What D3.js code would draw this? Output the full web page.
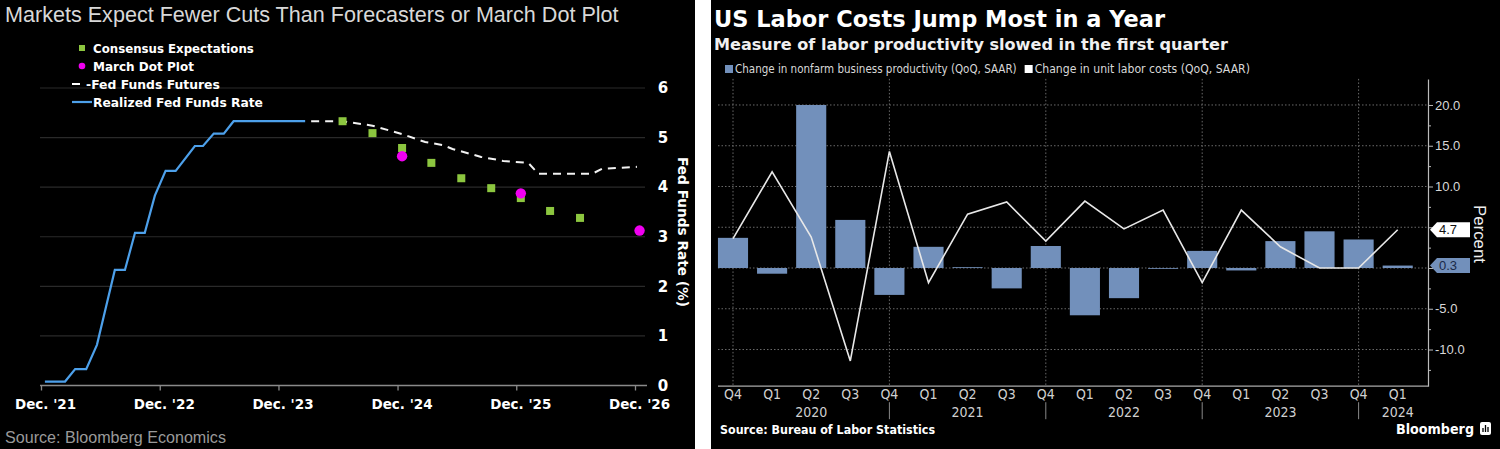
<!DOCTYPE html>
<html><head><meta charset="utf-8">
<script src="https://cdn.jsdelivr.net/npm/d3@7"></script>
<style>body{margin:0;background:#fff;} svg{display:block}</style>
</head><body>
<svg id="c" width="1500" height="449"></svg>
<script>
// ---------- LEFT CHART DATA ----------
const realizedDates = ["2021-12-13","2022-02-13","2022-03-16","2022-04-19","2022-05-22","2022-07-16","2022-08-16","2022-09-16","2022-10-16","2022-11-16","2022-12-19","2023-01-19","2023-03-19","2023-04-13","2023-05-16","2023-06-16","2023-07-16","2024-02-21"];
const realizedRates = [0.08,0.08,0.33,0.33,0.82,2.33,2.33,3.08,3.08,3.83,4.33,4.33,4.83,4.83,5.08,5.08,5.33,5.33];
const futuresDates = ["2024-02-21","2024-06-15","2024-09-15","2024-12-15","2025-02-24","2025-04-19","2025-05-19","2025-08-15","2025-10-22","2026-01-07","2026-02-07","2026-07-22","2026-08-22","2026-12-07"];
const futuresRates = [5.33,5.33,5.24,5.07,4.91,4.85,4.77,4.61,4.53,4.49,4.27,4.27,4.37,4.41];
const consensusDates = ["2024-06-15","2024-09-15","2024-12-15","2025-03-15","2025-06-15","2025-09-15","2025-12-15","2026-03-15","2026-06-15"];
const consensusRates = [5.33,5.09,4.79,4.49,4.18,3.98,3.78,3.52,3.38];
const dotPlotDates = ["2024-12-15","2025-12-15","2026-12-15"];
const dotPlotRates = [4.625,3.875,3.125];
const leftXTickDates = ["2021-12-01","2022-12-01","2023-12-01","2024-12-01","2025-12-01","2026-12-01"];
const leftXTickLabels = ["Dec. '21","Dec. '22","Dec. '23","Dec. '24","Dec. '25","Dec. '26"];
const leftYTicks = [0,1,2,3,4,5,6];
const leftYTickLabels = ["0","1","2","3","4","5","6"];
const leftLegendLabels = ["Consensus Expectations","March Dot Plot","-Fed Funds Futures","Realized Fed Funds Rate"];

// ---------- RIGHT CHART DATA ----------
const quarterLabels = ["Q4","Q1","Q2","Q3","Q4","Q1","Q2","Q3","Q4","Q1","Q2","Q3","Q4","Q1","Q2","Q3","Q4","Q1"];
const quarterYears  = [2019,2020,2020,2020,2020,2021,2021,2021,2021,2022,2022,2022,2022,2023,2023,2023,2023,2024];
const productivity   = [3.7,-0.7,20.0,5.9,-3.3,2.6,0.1,-2.5,2.7,-5.8,-3.7,-0.1,2.1,-0.3,3.3,4.5,3.5,0.3];
const unitLaborCosts = [3.6,11.8,3.8,-11.4,14.3,-1.8,6.6,8.1,3.3,8.2,4.8,7.1,-1.8,7.1,2.6,0.0,0.0,4.7];
const rightYTicks = [-10,-5,0,5,10,15,20];
const rightYTickLabels = ["-10.0","-5.0","0.0","5.0","10.0","15.0","20.0"];
const rightYMinorTicks = [-12.5,-7.5,-2.5,2.5,7.5,12.5,17.5];
const yearLabels = ["2020","2021","2022","2023","2024"];
const rightLegendLabels = ["Change in nonfarm business productivity (QoQ, SAAR)","Change in unit labor costs (QoQ, SAAR)"];

// ---------- HELPERS ----------
const NARROW = "'Liberation Sans Narrow','DejaVu Sans Condensed','Roboto Condensed','Liberation Sans',Arial,sans-serif";
const SANS = "'Liberation Sans',Arial,sans-serif";
const DJ = "'DejaVu Sans',Verdana,sans-serif";
function fit(t, w){ const fs=parseFloat(t.attr('font-size')); const l=t.node().getComputedTextLength(); if(l>0) t.attr('font-size',(fs*w/l).toFixed(2)); return t; }
const parse = d3.timeParse('%Y-%m-%d');
const svg = d3.select('#c');

// ================= LEFT =================
const L = svg.append('g');
L.append('rect').attr('x',0).attr('y',0).attr('width',695).attr('height',449).attr('fill','#000');
const xL = d3.scaleTime().domain([parse(leftXTickDates[0]), parse(leftXTickDates[leftXTickDates.length-1])]).range([41,635]);
const yL = d3.scaleLinear().domain([0,6]).range([385.5,88]);

fit(L.append('text').attr('x',5).attr('y',22).attr('fill','#d8d8d8').attr('font-family',SANS).attr('font-size',21)
  .text('Markets Expect Fewer Cuts Than Forecasters or March Dot Plot'), 614);

// gridlines
L.append('g').selectAll('line').data(leftYTicks.filter(d=>d>0)).join('line')
  .attr('x1',40).attr('x2',645).attr('y1',d=>yL(d)).attr('y2',d=>yL(d))
  .attr('stroke','#2a2a2a').attr('stroke-width',1.2);

// x axis
const gxL = L.append('g').attr('transform',`translate(0,${yL(0)})`)
  .call(d3.axisBottom(xL).tickValues(leftXTickDates.map(parse)).tickFormat((d,i)=>leftXTickLabels[i]).tickSize(5).tickSizeOuter(0));
gxL.select('.domain').remove();
gxL.selectAll('.tick line').attr('stroke','#8a8a8a').attr('stroke-width',1.3);
gxL.selectAll('.tick text').attr('fill','#fff').attr('font-family',DJ).attr('font-weight','bold').attr('font-size',13.5).attr('dy',0).attr('y',23).attr('dx',4);
L.append('line').attr('x1',40).attr('x2',647).attr('y1',yL(0)).attr('y2',yL(0)).attr('stroke','#8a8a8a').attr('stroke-width',1.5);

// y axis (right)
const gyL = L.append('g').attr('transform','translate(663,0)')
  .call(d3.axisRight(yL).tickValues(leftYTicks).tickFormat((d,i)=>leftYTickLabels[i]).tickSize(0).tickPadding(0));
gyL.select('.domain').remove();
gyL.selectAll('.tick text').attr('fill','#fff').attr('font-family',DJ).attr('font-weight','bold').attr('font-size',15).attr('text-anchor','middle').attr('x',0);
fit(L.append('text').attr('transform','translate(683,232) rotate(90)').attr('text-anchor','middle').attr('dy','0.35em')
  .attr('fill','#fff').attr('font-family',DJ).attr('font-weight','bold').attr('font-size',14).text('Fed Funds Rate (%)'), 150);

// realized line
const lineL = d3.line().x(d=>xL(d[0])).y(d=>yL(d[1]));
L.append('path').datum(realizedDates.map((d,i)=>[parse(d),realizedRates[i]]))
  .attr('d',lineL).attr('fill','none').attr('stroke','#4da0ea').attr('stroke-width',2.2);
// futures
L.append('path').datum(futuresDates.map((d,i)=>[parse(d),futuresRates[i]]))
  .attr('d',lineL).attr('fill','none').attr('stroke','#f2f2f2').attr('stroke-width',2).attr('stroke-dasharray','8,6').attr('stroke-dashoffset',-6);
// consensus squares
L.append('g').selectAll('rect').data(consensusDates.map((d,i)=>[parse(d),consensusRates[i]])).join('rect')
  .attr('x',d=>xL(d[0])-4).attr('y',d=>yL(d[1])-4).attr('width',8).attr('height',8).attr('fill','#8cc63f');
// dot plot
L.append('g').selectAll('circle').data(dotPlotDates.map((d,i)=>[parse(d),dotPlotRates[i]])).join('circle')
  .attr('cx',d=>xL(d[0])).attr('cy',d=>yL(d[1])).attr('r',5.2).attr('fill','#f000f0');

// legend
const legY = [48,66,84,102];
const lg = L.append('g');
lg.append('rect').attr('x',79).attr('y',legY[0]-3).attr('width',6).attr('height',6).attr('fill','#8cc63f');
lg.append('circle').attr('cx',82).attr('cy',legY[1]).attr('r',3.3).attr('fill','#f000f0');
lg.append('line').attr('x1',72).attr('x2',80).attr('y1',legY[2]).attr('y2',legY[2]).attr('stroke','#fff').attr('stroke-width',2);
lg.append('line').attr('x1',72).attr('x2',92).attr('y1',legY[3]).attr('y2',legY[3]).attr('stroke','#4da0ea').attr('stroke-width',2.2);
const legW = [161,101,127,170];
leftLegendLabels.forEach((t,i)=>{
  fit(lg.append('text').attr('x',i===2?86:93).attr('y',legY[i]+4.5).attr('fill','#fff').attr('font-family',DJ).attr('font-weight','bold').attr('font-size',12).text(t), i===2?134:legW[i]);
});

fit(L.append('text').attr('x',5).attr('y',443).attr('fill','#9a9a9a').attr('font-family',SANS).attr('font-size',16).text('Source: Bloomberg Economics'), 221);

// ================= RIGHT =================
const R = svg.append('g');
R.append('rect').attr('x',711).attr('y',0).attr('width',789).attr('height',449).attr('fill','#000');
const keys = quarterLabels.map((q,i)=>quarterYears[i]+q);
const xR = d3.scaleBand().domain(keys).range([713.45,1417.25]).paddingInner(0.23).paddingOuter(0.115);
const yR = d3.scaleLinear().domain([-14.5,23.2]).range([386.2,78.9]);
const cx = k => xR(k)+xR.bandwidth()/2;

fit(R.append('text').attr('x',714).attr('y',27).attr('fill','#fff').attr('font-family',DJ).attr('font-weight','bold').attr('font-size',20)
  .text('US Labor Costs Jump Most in a Year'), 451);
fit(R.append('text').attr('x',714).attr('y',50).attr('fill','#f0f0f0').attr('font-family',DJ).attr('font-weight','bold').attr('font-size',15)
  .text('Measure of labor productivity slowed in the first quarter'), 514);

// legend
R.append('rect').attr('x',725).attr('y',65).attr('width',8).attr('height',8).attr('fill','#7290bb');
const lt1 = fit(R.append('text').attr('x',735).attr('y',73).attr('fill','#d8d8d8').attr('font-family',NARROW).attr('font-size',12).text(rightLegendLabels[0]), 282);
const l1end = 735 + lt1.node().getComputedTextLength();
R.append('rect').attr('x',l1end+8).attr('y',65).attr('width',8).attr('height',8).attr('fill','#fff');
fit(R.append('text').attr('x',l1end+18).attr('y',73).attr('fill','#d8d8d8').attr('font-family',NARROW).attr('font-size',12).text(rightLegendLabels[1]), 1250-(l1end+18));

// horizontal gridlines
R.append('g').selectAll('line').data(rightYTicks).join('line')
  .attr('x1',718).attr('x2',1427).attr('y1',d=>yR(d)).attr('y2',d=>yR(d))
  .attr('stroke','#6a6a6a').attr('stroke-width',1).attr('stroke-dasharray','1.5,2');
// vertical gridlines at Q4
R.append('g').selectAll('line').data(keys.filter((k,i)=>quarterLabels[i]==='Q4')).join('line')
  .attr('x1',cx).attr('x2',cx).attr('y1',yR(23.2)).attr('y2',yR(-14.5))
  .attr('stroke','#6a6a6a').attr('stroke-width',1).attr('stroke-dasharray','1.5,2');

// bars
R.append('g').selectAll('rect').data(keys.map((k,i)=>[k,productivity[i]])).join('rect')
  .attr('x',d=>xR(d[0])).attr('width',xR.bandwidth())
  .attr('y',d=>yR(Math.max(0,d[1]))).attr('height',d=>Math.max(0.8,Math.abs(yR(d[1])-yR(0))))
  .attr('fill','#7290bb');
// line
R.append('path').datum(keys.map((k,i)=>[k,unitLaborCosts[i]]))
  .attr('d',d3.line().x(d=>cx(d[0])).y(d=>yR(d[1]))).attr('fill','none').attr('stroke','#e8e8e8').attr('stroke-width',1.6);

// x axis
R.append('line').attr('x1',718).attr('x2',1428).attr('y1',yR(-14.5)).attr('y2',yR(-14.5)).attr('stroke','#aaa').attr('stroke-width',1.2);
const gxR = R.append('g').attr('transform',`translate(0,${yR(-14.5)})`)
  .call(d3.axisBottom(xR).tickFormat((d,i)=>quarterLabels[i]).tickSize(0));
gxR.select('.domain').remove();
gxR.selectAll('.tick text').attr('fill','#d0d0d0').attr('font-family',NARROW).attr('font-size',14).attr('dy',0).attr('y',13);
// year separators
R.append('g').selectAll('line').data(keys.filter((k,i)=>quarterLabels[i]==='Q4' && quarterYears[i]>=2020)).join('line')
  .attr('x1',cx).attr('x2',cx).attr('y1',yR(-14.5)+16).attr('y2',yR(-14.5)+33).attr('stroke','#888').attr('stroke-width',1);
// year labels
R.append('g').selectAll('text').data(yearLabels).join('text')
  .attr('x',y=>d3.mean(keys.filter((k,i)=>String(quarterYears[i])===y && quarterLabels[i]!=='Q4'),cx))
  .attr('y',yR(-14.5)+31).attr('text-anchor','middle').attr('fill','#d0d0d0').attr('font-family',NARROW).attr('font-size',14).text(d=>d);

// value boxes (latest values) – tick labels hidden where a box sits
const boxVals = [unitLaborCosts[unitLaborCosts.length-1], productivity[productivity.length-1]];
const hidden = v => boxVals.some(b=>Math.abs(yR(b)-yR(v))<14);

// y axis right
const gyR = R.append('g').attr('transform','translate(1428,0)')
  .call(d3.axisRight(yR).tickValues(rightYTicks).tickFormat((d,i)=>hidden(d)?'':rightYTickLabels[i]).tickSize(5).tickSizeOuter(0).tickPadding(2));
gyR.select('.domain').attr('stroke','#bbb').attr('stroke-width',1.2);
gyR.selectAll('.tick line').attr('stroke','#bbb');
gyR.selectAll('.tick text').attr('fill','#d8d8d8').attr('font-family',SANS).attr('font-size',13);
const gyR2 = R.append('g').attr('transform','translate(1428,0)')
  .call(d3.axisRight(yR).tickValues(rightYMinorTicks).tickFormat('').tickSize(3).tickSizeOuter(0));
gyR2.select('.domain').remove();
gyR2.selectAll('.tick line').attr('stroke','#bbb');

function valBox(v, fill, tc){
  const y = yR(v), g = R.append('g');
  g.append('path').attr('d',`M1430,${y} L1437,${y-7.5} L1470,${y-7.5} L1470,${y+7.5} L1437,${y+7.5} Z`).attr('fill',fill);
  g.append('text').attr('x',1439).attr('y',y).attr('dy','0.36em').attr('fill',tc).attr('font-family',SANS).attr('font-size',13).text(v.toFixed(1));
}
valBox(boxVals[0],'#ffffff','#111');
valBox(boxVals[1],'#7290bb','#1a2a48');

fit(R.append('text').attr('transform','translate(1480,234) rotate(90)').attr('text-anchor','middle').attr('dy','0.35em')
  .attr('fill','#eee').attr('font-family',SANS).attr('font-size',15).text('Percent'), 58);

fit(R.append('text').attr('x',720).attr('y',434).attr('fill','#fff').attr('font-family',NARROW).attr('font-weight','bold').attr('font-size',12)
  .text('Source: Bureau of Labor Statistics'), 215);
fit(R.append('text').attr('x',1474).attr('y',434).attr('text-anchor','end').attr('fill','#fff').attr('font-family',NARROW).attr('font-weight','bold').attr('font-size',16).text('Bloomberg'), 78);
// logo
R.append('rect').attr('x',1480).attr('y',422).attr('width',11).attr('height',13).attr('rx',2).attr('fill','#fff');
R.append('path').attr('d','M1483,432 V428 M1485.5,432 V425 M1488,432 V427').attr('stroke','#000').attr('stroke-width',1.3);
</script>
</body></html>
